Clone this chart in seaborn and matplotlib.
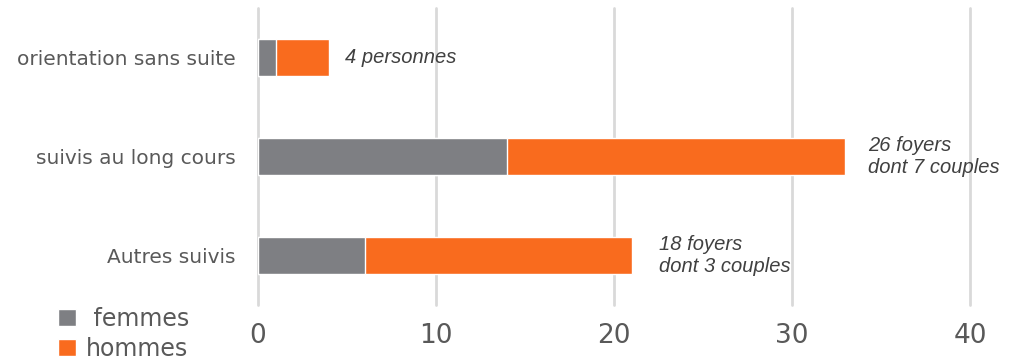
import matplotlib
matplotlib.use("Agg")
import matplotlib.pyplot as plt
from matplotlib.patches import Patch
from matplotlib import font_manager
import seaborn as sns
import pandas as pd

categories = ["orientation sans suite", "suivis au long cours", "Autres suivis"]
femmes = [1, 14, 6]
hommes = [3, 19, 15]
annotations = ["4 personnes", "26 foyers\ndont 7 couples", "18 foyers\ndont 3 couples"]
xticks = [0, 10, 20, 30, 40]

GRAY = "#7E7F83"
ORANGE = "#F96B1E"
TEXT = "#595959"

sns.set_style("white")
names = {f.name for f in font_manager.fontManager.ttflist}
main_font = "Liberation Sans Narrow" if "Liberation Sans Narrow" in names else "DejaVu Sans"
plt.rcParams["font.family"] = [main_font, "DejaVu Sans"]

df = pd.DataFrame({"cat": categories, "femmes": femmes, "hommes": hommes})
df["total"] = df["femmes"] + df["hommes"]

fig = plt.figure(figsize=(10.19, 3.62), dpi=100)
ax = fig.add_axes([0.2532, 0.1575, 0.6988, 0.8205])

sns.barplot(data=df, y="cat", x="total", color=ORANGE, orient="h",
            width=0.375, saturation=1, ax=ax, zorder=3)
sns.barplot(data=df, y="cat", x="femmes", color=GRAY, orient="h",
            width=0.375, saturation=1, ax=ax, zorder=4)

ax.set_xlim(0, 40)
ax.set_ylim(2.5, -0.5)
ax.set_xticks(xticks)
ax.set_xlabel("")
ax.set_ylabel("")
ax.grid(axis="x", color="#D9D9D9", linewidth=2, zorder=0)
for gl in ax.get_xgridlines():
    gl.set_clip_on(False)
ax.set_axisbelow(True)
for s in ax.spines.values():
    s.set_visible(False)
ax.tick_params(axis="x", length=0, labelsize=19, colors=TEXT, pad=13)
ax.tick_params(axis="y", length=0, labelsize=14.5, colors=TEXT, pad=16)

offsets = [16, 23, 27]
for i, (txt, tot) in enumerate(zip(annotations, df["total"])):
    ax.annotate(txt, xy=(tot, i), xytext=(offsets[i], 0), textcoords="offset pixels",
                ha="left", va="center", fontsize=14.5, style="italic",
                color="#404040", family=["Liberation Sans", "DejaVu Sans"],
                linespacing=1.2)

handles = [Patch(facecolor=GRAY, label=" femmes"), Patch(facecolor=ORANGE, label="hommes")]
leg = fig.legend(handles=handles, loc="lower left", bbox_to_anchor=(0.048, -0.022),
                 frameon=False, fontsize=17, handlelength=0.75, handleheight=0.75,
                 handletextpad=0.4, labelspacing=0.25, borderaxespad=0)
for t in leg.get_texts():
    t.set_color(TEXT)

fig.savefig("out.png", dpi=100)
